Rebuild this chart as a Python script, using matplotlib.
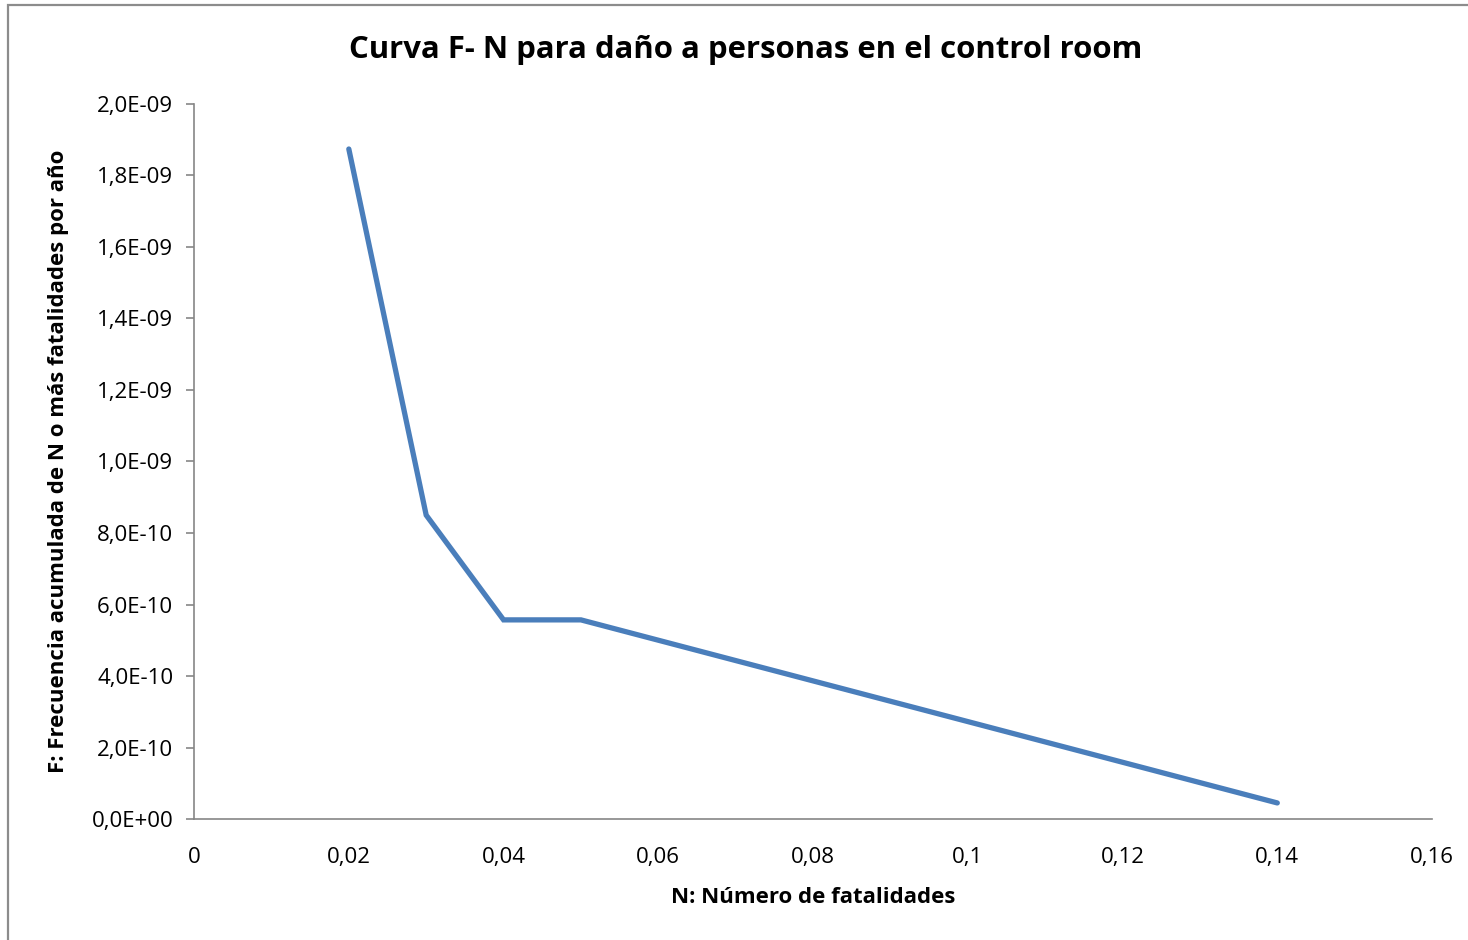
import matplotlib
matplotlib.use("Agg")
import matplotlib.pyplot as plt
from matplotlib.ticker import FuncFormatter, MultipleLocator
from matplotlib.patches import Rectangle

plt.rcParams['font.family'] = ['Open Sans', 'DejaVu Sans']

# datos de la curva F-N
n_fatalidades = [0.02, 0.03, 0.04, 0.05, 0.14]
frecuencia = [1.874e-9, 8.50e-10, 5.57e-10, 5.57e-10, 4.5e-11]

titulo = "Curva F- N para daño a personas en el control room"
etiqueta_x = "N: Número de fatalidades"
etiqueta_y = "F: Frecuencia acumulada de N o más fatalidades por año"

fig = plt.figure(figsize=(14.68, 9.40), dpi=100)
ax = fig.add_axes([0.1322, 0.1287, 0.8433, 0.7607])

# marco del gráfico
fig.patches.append(Rectangle((8 / 1468, -0.1), 1.2, 1 - 5 / 940 + 0.1,
                             transform=fig.transFigure, fill=False,
                             edgecolor='#8c8c8c', linewidth=1.6))

ax.plot(n_fatalidades, frecuencia, color='#4a7ebb', linewidth=3.8,
        solid_capstyle='round', solid_joinstyle='miter')

ax.set_xlim(0, 0.16)
ax.set_ylim(0, 2e-9)
ax.xaxis.set_major_locator(MultipleLocator(0.02))
ax.yaxis.set_major_locator(MultipleLocator(2e-10))


def fmt_x(v, pos):
    s = ('%.2f' % v).rstrip('0').rstrip('.')
    return s.replace('.', ',')


def fmt_y(v, pos):
    if abs(v) < 1e-20:
        return '0,0E+00'
    s = '%.1E' % v
    return s.replace('.', ',')


ax.xaxis.set_major_formatter(FuncFormatter(fmt_x))
ax.yaxis.set_major_formatter(FuncFormatter(fmt_y))

for side in ['top', 'right']:
    ax.spines[side].set_visible(False)
for side in ['left', 'bottom']:
    ax.spines[side].set_color('#868686')
    ax.spines[side].set_linewidth(1.2)

ax.tick_params(axis='y', direction='out', length=6, width=1.2, color='#868686',
               labelsize=16, pad=9)
ax.tick_params(axis='x', length=0, labelsize=16, pad=20)

fig.text(746 / 1468, 1 - 50 / 940, titulo, fontsize=22.4, fontweight='bold',
         ha='center', va='center')
ax.set_xlabel(etiqueta_x, fontsize=16, fontweight='bold', labelpad=14)
ax.set_ylabel(etiqueta_y, fontsize=16, fontweight='bold', labelpad=16)

fig.savefig('out.png', dpi=100, facecolor='white')
